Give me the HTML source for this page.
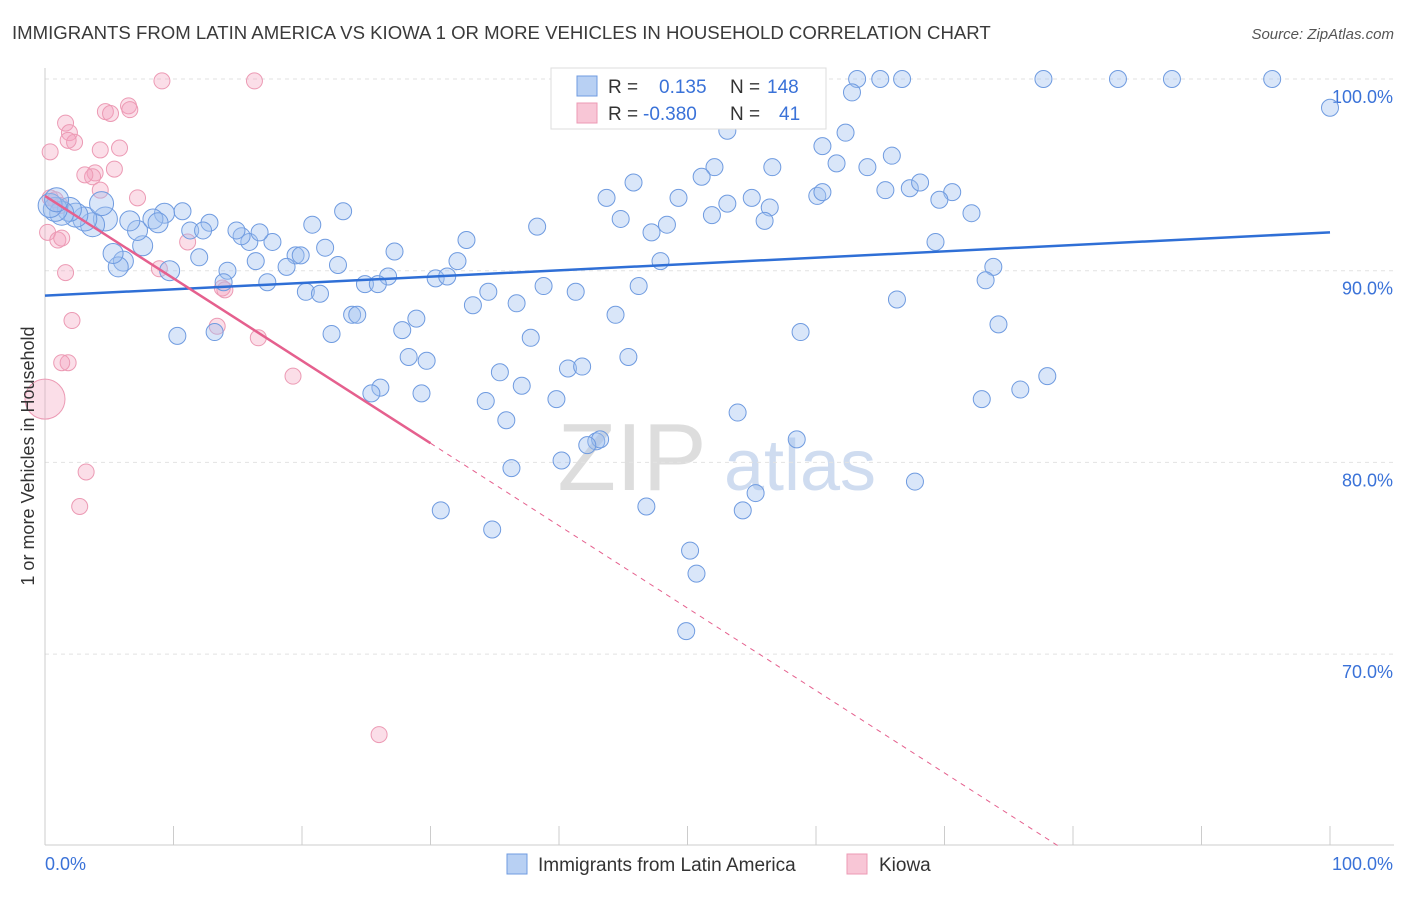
<!DOCTYPE html>
<html><head><meta charset="utf-8"><style>
body{margin:0;background:#fff;font-family:"Liberation Sans",sans-serif;}
svg text{font-family:"Liberation Sans",sans-serif;}
</style></head><body>
<svg id="chart" width="1406" height="892" xmlns="http://www.w3.org/2000/svg">
<text x="12" y="39" font-size="18.6" fill="#3a3a3a">IMMIGRANTS FROM LATIN AMERICA VS KIOWA 1 OR MORE VEHICLES IN HOUSEHOLD CORRELATION CHART</text>
<text x="1394" y="39" font-size="15" fill="#555" text-anchor="end" font-style="italic">Source: ZipAtlas.com</text>
<g>
<text x="632" y="490" font-size="96" fill="#ddd" text-anchor="middle" font-family="Liberation Serif">ZIP</text>
<text x="800" y="490" font-size="72" fill="#cfdcf0" text-anchor="middle">atlas</text>
</g>
<g id="grid"></g>
<g id="axes"></g>
<g id="marks"></g>
<text transform="translate(34,456) rotate(-90)" font-size="18" fill="#333" text-anchor="middle">1 or more Vehicles in Household</text>
<g>
<rect x="551" y="68" width="275" height="61" fill="#fff" stroke="#ddd"/>
<rect x="577" y="76" width="20" height="20" fill="#b8d0f3" stroke="#6f9be0"/>
<rect x="577" y="103" width="20" height="20" fill="#f8c6d6" stroke="#ec9ab4"/>
<text x="608" y="93" font-size="19" fill="#333">R = </text><text x="659" y="93" font-size="19" fill="#3a72d8">0.135</text>
<text x="730" y="93" font-size="19" fill="#333">N = </text><text x="767" y="93" font-size="19" fill="#3a72d8">148</text>
<text x="608" y="120" font-size="19" fill="#333">R = </text><text x="643" y="120" font-size="19" fill="#3a72d8">-0.380</text>
<text x="730" y="120" font-size="19" fill="#333">N = </text><text x="779" y="120" font-size="19" fill="#3a72d8">41</text>
</g>
<g>
<rect x="507" y="854" width="20" height="20" fill="#b8d0f3" stroke="#6f9be0"/>
<text x="538" y="871" font-size="19" fill="#333">Immigrants from Latin America</text>
<rect x="847" y="854" width="20" height="20" fill="#f8c6d6" stroke="#ec9ab4"/>
<text x="879" y="871" font-size="19" fill="#333">Kiowa</text>
</g>
</svg>
<script>
const yTicks=[100,90,80,70];
const yTickLabels=["100.0%","90.0%","80.0%","70.0%"];
const xTicks=[0,10,20,30,40,50,60,70,80,90,100];
const blueX=[77.7,83.5,87.7,95.5,63.2,65.0,66.7,57.8,100,62.8,53.1,62.3,60.5,61.6,64.0,65.9,52.1,56.6,51.1,45.8,43.7,49.3,55.0,53.1,56.4,60.1,60.5,65.4,67.3,68.1,70.6,69.6,72.1,51.9,56.0,44.8,47.2,48.4,38.3,32.8,69.3,47.9,32.1,30.4,31.3,34.5,38.8,41.3,36.7,33.3,46.2,44.4,66.3,73.8,73.2,74.2,58.8,37.8,45.4,28.3,29.7,35.4,37.1,40.7,41.8,78.0,75.9,72.9,53.9,39.8,34.3,35.9,26.1,29.3,25.4,42.9,43.2,42.2,58.5,40.2,36.3,67.7,55.3,54.3,46.8,30.8,34.8,50.2,50.7,49.9,23.2,20.8,19.5,21.8,17.7,15.9,15.3,16.7,14.9,12.8,10.7,9.3,11.3,12.3,12.0,14.2,16.4,18.8,19.9,22.8,27.2,26.7,24.9,25.9,20.3,21.4,17.3,13.9,9.7,6.1,5.7,5.3,7.6,7.2,8.4,8.8,6.6,4.7,3.7,3.1,2.4,1.9,1.3,0.8,0.4,0.9,4.4,10.3,13.2,22.3,23.9,24.3,28.9,27.8];
const blueY=[100,100,100,100,100,100,100,99.7,98.5,99.3,97.3,97.2,96.5,95.6,95.4,96.0,95.4,95.4,94.9,94.6,93.8,93.8,93.8,93.5,93.3,93.9,94.1,94.2,94.3,94.6,94.1,93.7,93.0,92.9,92.6,92.7,92.0,92.4,92.3,91.6,91.5,90.5,90.5,89.6,89.7,88.9,89.2,88.9,88.3,88.2,89.2,87.7,88.5,90.2,89.5,87.2,86.8,86.5,85.5,85.5,85.3,84.7,84.0,84.9,85.0,84.5,83.8,83.3,82.6,83.3,83.2,82.2,83.9,83.6,83.6,81.1,81.2,80.9,81.2,80.1,79.7,79.0,78.4,77.5,77.7,77.5,76.5,75.4,74.2,71.2,93.1,92.4,90.8,91.2,91.5,91.5,91.8,92.0,92.1,92.5,93.1,93.0,92.1,92.1,90.7,90.0,90.5,90.2,90.8,90.3,91.0,89.7,89.3,89.3,88.9,88.8,89.4,89.4,90.0,90.5,90.2,90.9,91.3,92.1,92.7,92.5,92.6,92.7,92.4,92.7,92.9,93.2,93.0,93.2,93.4,93.7,93.5,86.6,86.8,86.7,87.7,87.7,87.5,86.9];
const pinkX=[0.4,0.8,1.2,0.2,1.0,1.3,0.4,1.6,1.9,2.3,1.8,4.7,5.1,6.5,6.6,5.8,5.4,4.3,3.9,3.7,3.1,4.3,7.2,9.1,16.3,11.1,8.9,13.8,14.0,13.4,16.6,19.3,1.6,2.1,1.8,1.3,3.2,2.7,26.0,0];
const pinkY=[93.8,93.7,93.4,92.0,91.6,91.7,96.2,97.7,97.2,96.7,96.8,98.3,98.2,98.6,98.4,96.4,95.3,96.3,95.1,94.9,95.0,94.2,93.8,99.9,99.9,91.5,90.1,89.1,89.0,87.1,86.5,84.5,89.9,87.4,85.2,85.2,79.5,77.7,65.8,83.3];
const blueTrend=[88.7,92.0];
const pinkTrend=[93.9,-0.43];
const NS="http://www.w3.org/2000/svg";
const X=v=>45+v*12.85;
const Y=v=>79+(100-v)*19.17;
function mk(tag,attrs,parent){const e=document.createElementNS(NS,tag);for(const k in attrs)e.setAttribute(k,attrs[k]);parent.appendChild(e);return e;}
const grid=document.getElementById('grid'),axes=document.getElementById('axes'),marks=document.getElementById('marks');
yTicks.forEach((t,i)=>{
 const l=mk('line',{x1:45,x2:1394,y1:Y(t),y2:Y(t),stroke:'#e2e2e2','stroke-dasharray':'4,4'},grid);
 
 
 const tx=mk('text',{x:1393,y:Y(t)+24,'font-size':18,fill:'#3a72d8','text-anchor':'end'},axes);
 tx.textContent=yTickLabels[i];
 
 
});
mk('line',{x1:45,x2:45,y1:68,y2:845,stroke:'#ccc'},axes);
mk('line',{x1:45,x2:1394,y1:845,y2:845,stroke:'#ccc'},axes);
xTicks.forEach(t=>{const l=mk('line',{x1:X(t),x2:X(t),y1:826,y2:845,stroke:'#ccc'},axes);
 
 });
const x0=mk('text',{x:45,y:870,'font-size':18,fill:'#3a72d8'},axes);x0.textContent='0.0%';


const x1=mk('text',{x:1393,y:870,'font-size':18,fill:'#3a72d8','text-anchor':'end'},axes);x1.textContent='100.0%';


pinkX.forEach((v,i)=>{const r=(v===0)?20:8;
 const c=mk('circle',{cx:X(v),cy:Y(pinkY[i]),r:r,fill:'rgba(243,160,188,0.35)',stroke:'#ec9ab4','stroke-width':1},marks);
 
 });
blueX.forEach((v,i)=>{const r=v<5?12:(v<10?10:8.5);
 const c=mk('circle',{cx:X(v),cy:Y(blueY[i]),r:r,fill:'rgba(160,192,240,0.4)',stroke:'#6f9be0','stroke-width':1},marks);
 
 });
const bt=mk('line',{x1:X(0),y1:Y(blueTrend[0]),x2:X(100),y2:Y(blueTrend[1]),stroke:'#2f6fd6','stroke-width':2.5},marks);


const pt=mk('line',{x1:X(0),y1:Y(pinkTrend[0]),x2:X(30),y2:Y(pinkTrend[0]+pinkTrend[1]*30),stroke:'#e5608e','stroke-width':2.5},marks);


const xe=(60-pinkTrend[0])/pinkTrend[1];
const pd=mk('line',{x1:X(30),y1:Y(pinkTrend[0]+pinkTrend[1]*30),x2:X(xe),y2:Y(60),stroke:'#e5608e','stroke-width':1,'stroke-dasharray':'5,5'},marks);


</script>
</body></html>
